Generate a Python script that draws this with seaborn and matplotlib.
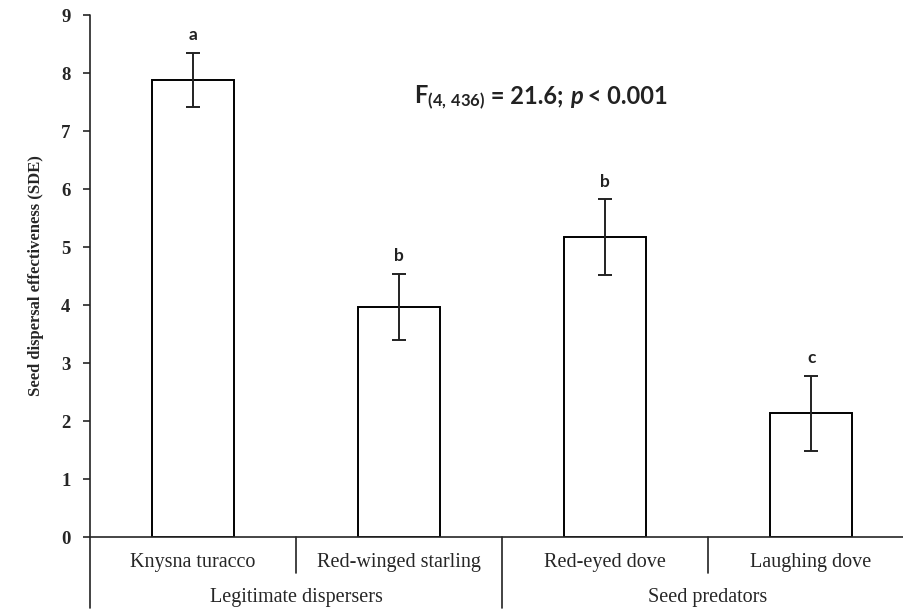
import matplotlib
matplotlib.use("Agg")
import matplotlib.pyplot as plt
import seaborn as sns
import pandas as pd
from matplotlib.lines import Line2D
from matplotlib.transforms import offset_copy

species = ["Knysna turacco", "Red-winged starling", "Red-eyed dove", "Laughing dove"]
groups = ["Legitimate dispersers", "Seed predators"]
sde = [7.88, 3.97, 5.17, 2.13]
se = [0.47, 0.57, 0.65, 0.65]
letters = ["a", "b", "b", "c"]
y_ticks = list(range(0, 10))

sns.set_style("ticks")
plt.rcParams["font.family"] = ["Liberation Serif", "DejaVu Serif"]
plt.rcParams["mathtext.fontset"] = "custom"
plt.rcParams["mathtext.rm"] = "Lato:bold"
plt.rcParams["mathtext.it"] = "Lato:bold:italic"
plt.rcParams["mathtext.bf"] = "Lato:bold"

df = pd.DataFrame({"species": species, "sde": sde})

fig = plt.figure(figsize=(9.04, 6.13), dpi=100)
ax = fig.add_axes([90 / 904, 76 / 613, 814 / 904, 522 / 613])

sns.barplot(data=df, x="species", y="sde", order=species, color="white",
            edgecolor="black", linewidth=1.4, width=0.4, errorbar=None, ax=ax)
for p in ax.patches:
    p.set_facecolor("white")

ax.errorbar(range(len(species)), sde, yerr=se, fmt="none", ecolor="#222222",
            elinewidth=1.4, capsize=5, capthick=1.4)

for i, (v, e, l) in enumerate(zip(sde, se, letters)):
    ax.text(i, v + e + 0.22, l, ha="center", va="baseline", fontsize=12.5,
            family="Lato", weight="bold", color="#222222")

# F statistic, drawn piece by piece so the spacing stays tight
renderer = fig.canvas.get_renderer()
pieces = [
    (r"$\mathrm{F}_{\mathrm{(4,\,436)}}$", {}),
    (" = 21.6; ", {"family": "Lato", "weight": "bold"}),
    ("p", {"family": "Lato", "weight": "bold", "style": "italic"}),
    (" < 0.001", {"family": "Lato", "weight": "bold"}),
]
x0, y0 = 1.69, 7.59
texts = []
tr = ax.transData
for s, kw in pieces:
    t = ax.text(x0, y0, s, transform=tr, ha="left", va="baseline", fontsize=17,
                color="#222222", **kw)
    texts.append(t)
    w = t.get_window_extent(renderer=renderer).width
    tr = offset_copy(tr, fig=fig, x=w, y=0, units="dots")
total = sum(t.get_window_extent(renderer=renderer).width for t in texts)
for t in texts:
    t.set_transform(offset_copy(t.get_transform(), fig=fig, x=-total / 2, y=-7,
                                units="dots"))

ax.set_ylim(0, 9)
ax.set_xlim(-0.5, 3.451)
ax.set_yticks(y_ticks)
ax.tick_params(axis="y", labelsize=13.5, length=5, width=1.2, pad=9, direction="out")
for lab in ax.get_yticklabels():
    lab.set_fontweight("bold")
ax.tick_params(axis="x", length=0, labelbottom=False)
ax.set_xlabel("")
ax.set_ylabel("Seed dispersal effectiveness (SDE)", fontsize=12, fontweight="bold",
              labelpad=12)

for s in ["top", "right"]:
    ax.spines[s].set_visible(False)
ax.spines["left"].set_visible(False)
ax.spines["bottom"].set_linewidth(1.2)

trans = ax.get_xaxis_transform()
# y-axis extended down past the category rows
ax.add_line(Line2D([-0.5, -0.5], [-0.136, 1.0], transform=trans, color="#222222",
                   lw=1.2, clip_on=False))
# separators between species
for xs in [0.5, 2.5]:
    ax.add_line(Line2D([xs, xs], [0, -0.069], transform=trans, color="#222222",
                       lw=1.2, clip_on=False))
ax.add_line(Line2D([1.5, 1.5], [0, -0.136], transform=trans, color="#222222",
                   lw=1.2, clip_on=False))

for i, name in enumerate(species):
    ax.text(i, -0.048, name, transform=trans, ha="center", va="center", fontsize=14.5)
for j, g in enumerate(groups):
    ax.text(2 * j + 0.5, -0.115, g, transform=trans, ha="center", va="center",
            fontsize=14.5)

fig.savefig("out.png", dpi=100)
